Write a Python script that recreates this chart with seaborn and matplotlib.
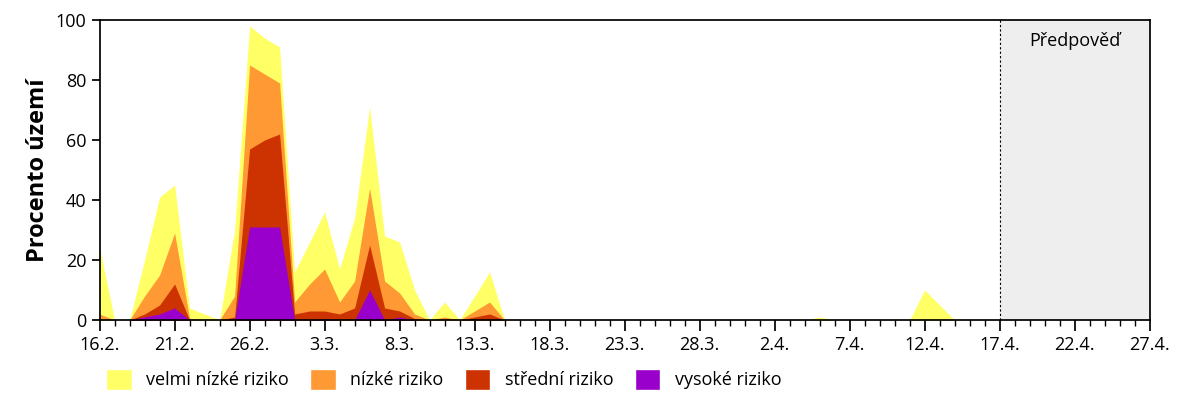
import numpy as np
import pandas as pd
import matplotlib.pyplot as plt
import seaborn as sns
from matplotlib.patches import Patch

# cumulative tops of the stacked bands, one value per day from 16.2.
dny = list(range(61))
celkem = [24, 0, 0, 20, 41, 45, 4, 2, 0, 30, 98, 94, 91, 16, 26, 36, 17, 34, 71, 28,
          26, 10, 0, 6, 0, 8, 16, 0] + [0] * 20 + [1, 0, 0, 0, 0, 0, 0, 10, 5, 0, 0, 0, 0]
nizke = [2, 0, 0, 8, 15, 29, 0.5, 0, 0, 8, 85, 82, 79, 6, 12, 17, 6, 13, 44, 13,
         9, 2, 0, 1, 0, 3, 6, 0] + [0] * 33
stredni = [0, 0, 0, 2, 5, 12, 0, 0, 0, 1, 57, 60, 62, 2, 3, 3, 2, 4, 25, 4,
           3, 0.5, 0, 0, 0, 1, 2, 0] + [0] * 33
vysoke = [0, 0, 0, 1, 2, 4, 0, 0, 0, 0, 31, 31, 31, 0, 0, 0.5, 0, 0, 10, 0,
          1, 0, 0, 0, 0, 0, 0, 0] + [0] * 33

tick_pos = list(range(0, 71, 5))
tick_labels = ["16.2.", "21.2.", "26.2.", "3.3.", "8.3.", "13.3.", "18.3.", "23.3.",
               "28.3.", "2.4.", "7.4.", "12.4.", "17.4.", "22.4.", "27.4."]
predpoved_od = 60

nazvy = ["velmi nízké riziko", "nízké riziko", "střední riziko", "vysoké riziko"]
barvy = ["#FFFF66", "#FF9933", "#CC3300", "#9900CC"]

df = pd.DataFrame({"den": dny, "celkem": celkem, "nizke": nizke,
                   "stredni": stredni, "vysoke": vysoke})

sns.set_theme(style="ticks", rc={"text.color": "black", "xtick.color": "black",
                                 "ytick.color": "black", "axes.labelcolor": "black"})
plt.rcParams['font.family'] = ['Open Sans', 'DejaVu Sans']

fig, ax = plt.subplots(figsize=(12, 4), dpi=100)
fig.subplots_adjust(left=0.083, right=0.958, top=0.95, bottom=0.2)

ax.axvspan(predpoved_od, 70, color="#EEEEEE", zorder=0)
ax.axvline(predpoved_od, color="black", ls=(0, (2, 2)), lw=0.8)
ax.text(predpoved_od + 5, 93, "Předpověď", ha="center", va="center", fontsize=13)

for col, barva in zip(["celkem", "nizke", "stredni", "vysoke"], barvy):
    ax.fill_between(df["den"], 0, df[col], color=barva, lw=0, zorder=2)

ax.set_xlim(0, 70)
ax.set_ylim(0, 100)
ax.set_xticks(tick_pos)
ax.set_xticklabels(tick_labels, fontsize=13)
ax.set_xticks(range(71), minor=True)
ax.set_yticks(range(0, 101, 20))
ax.tick_params(axis="y", labelsize=13)
ax.tick_params(axis="x", which="major", length=8)
ax.tick_params(axis="x", which="minor", length=4)
ax.set_ylabel("Procento území", fontsize=17, fontweight="bold")
for s in ax.spines.values():
    s.set_color("black")

handles = [Patch(facecolor=b, label=n) for n, b in zip(nazvy, barvy)]
fig.legend(handles=handles, loc="lower left", bbox_to_anchor=(0.075, -0.015), ncol=4,
           frameon=False, fontsize=13, handlelength=1.4, handleheight=1.4,
           columnspacing=1.2)

fig.savefig("out.png")
